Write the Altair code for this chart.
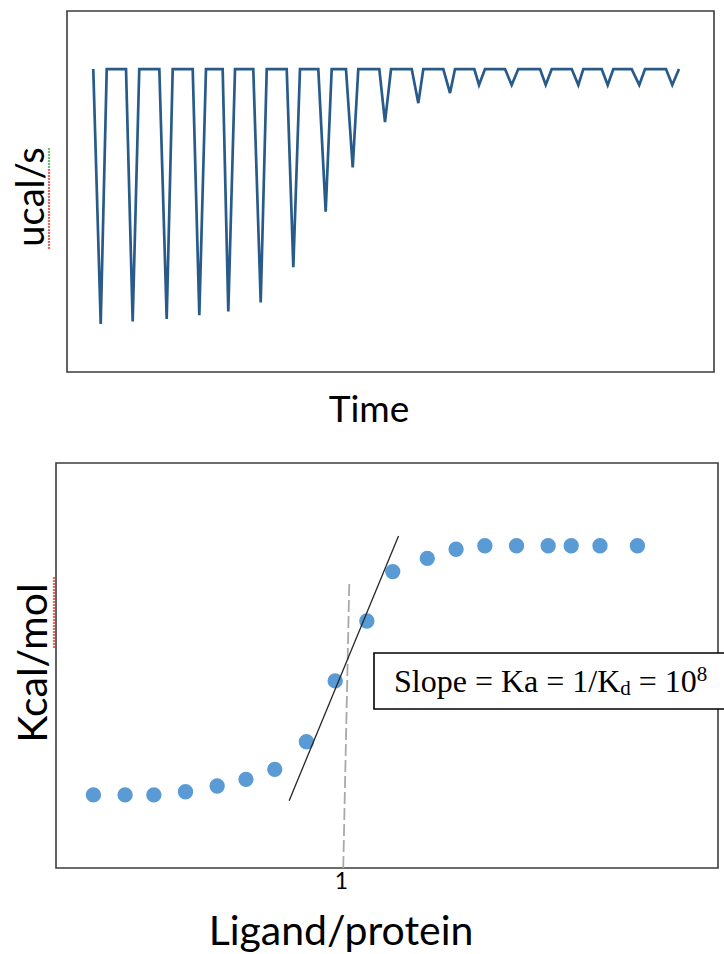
import altair as alt
import pandas as pd

# ---------------- data ----------------
# Top panel: ITC thermogram, each injection = start (baseline), peak, end (baseline)
inj_start = [4.06, 9.12, 14.27, 19.43, 24.06, 28.79, 33.96, 38.84, 43.12, 48.27,
             53.28, 58.16, 62.95, 67.70, 73.11, 78.01, 82.64, 87.28, 92.58]
inj_peak = [5.21, 10.15, 15.41, 20.45, 24.93, 29.94, 34.98, 39.98, 44.16, 49.15,
            54.30, 59.20, 63.68, 68.73, 73.99, 79.03, 83.57, 88.45, 93.55]
inj_end = [6.14, 11.17, 16.34, 21.48, 25.97, 30.87, 36.01, 40.91, 45.02, 50.08,
           55.07, 59.97, 64.61, 69.75, 74.92, 79.80, 84.44, 89.34, 94.59]
peak_depth = [-1.01, -1.00, -0.99, -0.975, -0.96, -0.925, -0.785, -0.565, -0.39, -0.21,
              -0.135, -0.095, -0.063, -0.063, -0.063, -0.063, -0.063, -0.063, -0.063]
baseline_level = 0.0

# Bottom panel: binding isotherm
ratio = [0.13, 0.24, 0.34, 0.45, 0.56, 0.66, 0.76, 0.87, 0.97, 1.08,
         1.17, 1.29, 1.39, 1.49, 1.60, 1.71, 1.79, 1.89, 2.02]
heat = [-10.06, -10.06, -10.06, -9.93, -9.70, -9.43, -9.03, -7.92, -5.47, -3.06,
        -1.07, -0.54, -0.17, -0.03, -0.03, -0.03, -0.03, -0.03, -0.03]
fit_ratio = [0.81, 1.19]
fit_heat = [-10.29, 0.36]
eq_ratio = [0.998, 1.019]
eq_heat = [-13.0, -1.52]
tick_values = [1]

# ---------------- layout constants (pixels) ----------------
W, H = 724, 954
TX0, TX1, TY0, TY1 = 67, 714, 11, 372      # top plot area
BX0, BX1, BY0, BY1 = 56, 718, 463, 868     # bottom plot area

rows = []
k = 0
for s, p, e, d in zip(inj_start, inj_peak, inj_end, peak_depth):
    for t, v in ((s, baseline_level), (p, d), (e, baseline_level)):
        rows.append({"i": k, "t": t, "v": v})
        k += 1
thermo = pd.DataFrame(rows)
pts = pd.DataFrame({"ratio": ratio, "heat": heat})
fit = pd.DataFrame({"ratio": fit_ratio, "heat": fit_heat})
eq = pd.DataFrame({"ratio": eq_ratio, "heat": eq_heat})
one = pd.DataFrame({"k": [0]})

FRAME = "#3c3c3c"
LABEL_FONT = "Lato"

# ---------------- top panel ----------------
top_x = alt.Scale(domain=[0, 100], range=[TX0, TX1], nice=False, zero=False)
top_y = alt.Scale(domain=[-1.2, 0.23], range=[TY1, TY0], nice=False, zero=False)

top_frame = alt.Chart(one).mark_rect(filled=False, color=FRAME, strokeWidth=1.6).encode(
    x=alt.value(TX0), x2=alt.value(TX1), y=alt.value(TY0), y2=alt.value(TY1))
top_line = alt.Chart(thermo).mark_line(color="#285a8a", strokeWidth=2.7, strokeJoin="miter").encode(
    x=alt.X("t:Q", scale=top_x, axis=None),
    y=alt.Y("v:Q", scale=top_y, axis=None),
    order=alt.Order("i:Q"))
top = alt.layer(top_frame, top_line)

# ---------------- bottom panel ----------------
bot_x = alt.Scale(domain=[0, 2.3], range=[BX0, BX1], nice=False, zero=False)
bot_y = alt.Scale(domain=[-13, 3.3], range=[BY1, BY0], nice=False, zero=False)
bot_axis = alt.Axis(values=tick_values, orient="bottom", offset=-(H - BY1), domain=False,
                    ticks=False, grid=False, title=None, labelFont=LABEL_FONT,
                    labelFontSize=23, labelColor="#000000", labelPadding=2, labelOffset=-3)
bx = alt.X("ratio:Q", scale=bot_x, axis=bot_axis)
by = alt.Y("heat:Q", scale=bot_y, axis=None)

bot_frame = alt.Chart(one).mark_rect(filled=False, color=FRAME, strokeWidth=1.6).encode(
    x=alt.value(BX0), x2=alt.value(BX1), y=alt.value(BY0), y2=alt.value(BY1))
eq_line = alt.Chart(eq).mark_line(color="#a9a9a9", strokeWidth=1.8, strokeDash=[12, 4]).encode(
    x=bx, y=by)
points = alt.Chart(pts).mark_circle(size=235, color="#5b9bd5", opacity=1).encode(x=bx, y=by)
fit_line = alt.Chart(fit).mark_line(color="#262626", strokeWidth=1.3).encode(x=bx, y=by)
bottom = alt.layer(bot_frame, eq_line, points, fit_line)

# ---------------- annotation box & labels ----------------
BOX_L, BOX_T, BOX_B = 374, 653, 709
box = alt.Chart(one).mark_rect(color="white", stroke="#000000", strokeWidth=1.6).encode(
    x=alt.value(BOX_L), x2=alt.value(W + 20), y=alt.value(BOX_T), y2=alt.value(BOX_B))

times_w = {'S': 556, 'l': 278, 'o': 500, 'p': 500, 'e': 444, ' ': 250, '=': 564,
           'K': 722, 'a': 444, '1': 500, '/': 278, 'd': 500, '0': 500, '8': 500}
def tw(s, size):
    return sum(times_w[c] for c in s) / 1000.0 * size

F_MAIN, F_SMALL = 32, 21
BASE = 692
# (text, size, vertical shift, leading gap in spaces)
parts = [("Slope = Ka = 1/K", F_MAIN, 0, 0), ("d", F_SMALL, 3, 0),
         ("= 10", F_MAIN, 0, 1), ("8", F_SMALL, -11, 0)]
xpos = 394
text_layers = []
for txt, fs, dy, gap in parts:
    xpos += gap * tw(" ", F_MAIN)
    text_layers.append(
        alt.Chart(one).mark_text(text=txt, font="Liberation Serif", fontSize=fs, color="#000000",
                                 align="left", baseline="alphabetic").encode(
            x=alt.value(xpos), y=alt.value(BASE + dy)))
    xpos += tw(txt, fs)

def label(txt, x, y, size, angle=0):
    kw = dict(text=txt, font=LABEL_FONT, fontSize=size, color="#000000",
              align="center", baseline="alphabetic")
    if angle:
        kw["angle"] = angle
    return alt.Chart(one).mark_text(**kw).encode(x=alt.value(x), y=alt.value(y))

labels = [
    label("Time", 369, 422, 37),
    label("Ligand/protein", 341, 945, 41),
    label("ucal/s", 44, 197, 38, angle=270),
    label("Kcal/mol", 47, 663, 41, angle=270),
]

def squiggle(x, y0, y1, color):
    return alt.Chart(one).mark_rule(color=color, strokeWidth=2.2, strokeDash=[2, 1]).encode(
        x=alt.value(x), y=alt.value(y0), y2=alt.value(y1))

squiggles = [
    squiggle(49, 148, 169, "#6cc06c"),
    squiggle(49, 169, 250, "#e8675c"),
    squiggle(54, 577, 648, "#e8675c"),
]

chart = alt.layer(top, bottom, box, *text_layers, *labels, *squiggles).resolve_scale(
    x="independent", y="independent"
).properties(
    width=W, height=H, padding=0, background="white",
    autosize=alt.AutoSizeParams(type="none"),
).configure_view(stroke="transparent")

chart.save("out.html", embed_options={"renderer": "svg", "actions": False})
